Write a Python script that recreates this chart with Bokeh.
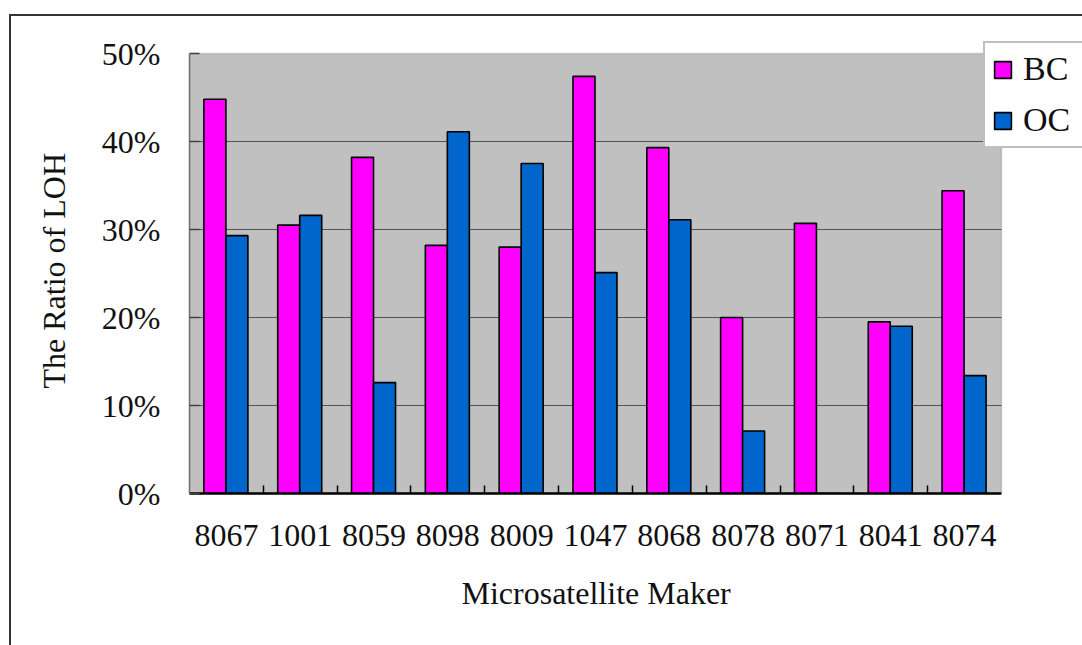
import numpy as np
from bokeh.plotting import figure
from bokeh.models import (ColumnDataSource, Range1d, FixedTicker, NumeralTickFormatter,
                          Legend, LegendItem, BoxAnnotation, InlineStyleSheet, Title)
from bokeh.transform import dodge
from bokeh.embed import file_html
from bokeh.resources import INLINE

# LOH ratio per microsatellite marker, breast cancer (BC) vs ovarian cancer (OC)
markers = ["8067", "1001", "8059", "8098", "8009", "1047", "8068", "8078", "8071", "8041", "8074"]
bc = [0.448, 0.305, 0.382, 0.282, 0.280, 0.474, 0.393, 0.200, 0.307, 0.195, 0.344]
oc = [0.293, 0.316, 0.126, 0.411, 0.375, 0.251, 0.311, 0.071, 0.0, 0.190, 0.134]
y_ticks = [0, 0.1, 0.2, 0.3, 0.4, 0.5]

FONT = "Liberation Serif"
FIG_W, FIG_H = 1082, 645
# pixel box of the grey plotting area inside the canvas
AREA_L, AREA_R, AREA_T, AREA_B = 189, 1001, 53, 493

n = len(markers)
y_max = y_ticks[-1]
centers = np.arange(n) + 0.5
bounds = np.arange(1, n)

# the frame runs to the right and top canvas edges so the legend can overhang the grey area
x_end = n * (FIG_W - AREA_L) / (AREA_R - AREA_L)
y_end = y_max * AREA_B / (AREA_B - AREA_T)

source = ColumnDataSource(dict(x=centers, marker=markers, bc=bc, oc=oc))
inner = y_ticks[1:-1]
grid_src = ColumnDataSource(dict(y=inner, x0=[0] * len(inner), x1=[n] * len(inner)))

p = figure(width=FIG_W, height=FIG_H, output_backend="svg", toolbar_location=None,
           x_range=Range1d(0, x_end), y_range=Range1d(0, y_end),
           min_border_left=AREA_L, min_border_right=0, min_border_top=0,
           min_border_bottom=FIG_H - AREA_B)

p.background_fill_color = "white"
p.border_fill_color = "white"
p.outline_line_color = None
p.xgrid.visible = False
p.ygrid.visible = False

# grey plotting area with its thin border
p.add_layout(BoxAnnotation(left=0, right=n, bottom=0, top=y_max, level="underlay",
                           fill_color="#C0C0C0", fill_alpha=1,
                           line_color="#808080", line_width=1.5))

# horizontal grid lines at the inner ticks
p.segment(x0="x0", x1="x1", y0="y", y1="y", source=grid_src, line_color="#555555", line_width=1)

bar_w = 0.298
r_bc = p.vbar(x=dodge("x", -0.156, range=p.x_range), top="bc", width=bar_w, source=source,
              fill_color="#FF00FF", line_color="black", line_width=1.6)
r_oc = p.vbar(x=dodge("x", 0.142, range=p.x_range), top="oc", width=bar_w, source=source,
              fill_color="#0066CC", line_color="black", line_width=1.6)

# x axis: labels at category centres, tick marks at category boundaries
xa = p.xaxis[0]
xa.bounds = (0, n)
xa.ticker = FixedTicker(ticks=list(centers), minor_ticks=list(bounds))
xa.major_label_overrides = {float(c): m for c, m in zip(centers, markers)}
xa.major_tick_in = 0
xa.major_tick_out = 0
xa.minor_tick_in = 8
xa.minor_tick_out = 0
xa.minor_tick_line_color = "black"
xa.minor_tick_line_width = 1.5
xa.axis_line_color = "black"
xa.axis_line_width = 2.5
xa.major_label_standoff = 31
xa.major_label_text_font = FONT
xa.major_label_text_font_size = "32px"
xa.major_label_text_color = "#111111"

# y axis
ya = p.yaxis[0]
ya.bounds = (0, y_max)
ya.ticker = FixedTicker(ticks=y_ticks)
ya.formatter = NumeralTickFormatter(format="0%")
ya.major_tick_in = 10
ya.major_tick_out = 0
ya.major_tick_line_color = "#404040"
ya.major_tick_line_width = 1.5
ya.minor_tick_in = 0
ya.minor_tick_out = 0
ya.axis_line_color = "#707070"
ya.axis_line_width = 1.5
ya.major_label_standoff = 29
ya.major_label_text_font = FONT
ya.major_label_text_font_size = "32px"
ya.major_label_text_color = "#111111"

# axis titles, centred under / beside the grey area rather than the whole frame
x_title = Title(text="Microsatellite Maker", align="left", offset=272, standoff=48,
                text_font=FONT, text_font_size="32px", text_font_style="normal",
                text_color="#111111")
p.add_layout(x_title, "below")
y_title = Title(text="The Ratio of LOH", align="left", offset=AREA_B - 388, standoff=54,
                text_font=FONT, text_font_size="32px", text_font_style="normal",
                text_color="#111111")
p.add_layout(y_title, "left")

# legend box straddling the top-right corner of the grey area
legend = Legend(items=[LegendItem(label="BC", renderers=[r_bc]),
                       LegendItem(label="OC", renderers=[r_oc])],
                location=(983 - AREA_L, AREA_B - 148), orientation="vertical",
                glyph_width=21, glyph_height=21, label_standoff=10, label_width=60,
                padding=7, spacing=13, margin=0,
                label_text_font=FONT, label_text_font_size="34px", label_text_color="#111111",
                border_line_color="#808080", border_line_width=2,
                background_fill_color="white", background_fill_alpha=1)
p.add_layout(legend, "center")

# thin frame around the whole chart (left and top edges)
p.stylesheets = [InlineStyleSheet(css=(
    ":host::after { content: ''; position: absolute; left: 9px; top: 14px; right: 0; bottom: 0;"
    " border-left: 2px solid #333333; border-top: 2px solid #333333;"
    " pointer-events: none; z-index: 10; }"))]

open("out.html", "w").write(file_html(p, INLINE))
